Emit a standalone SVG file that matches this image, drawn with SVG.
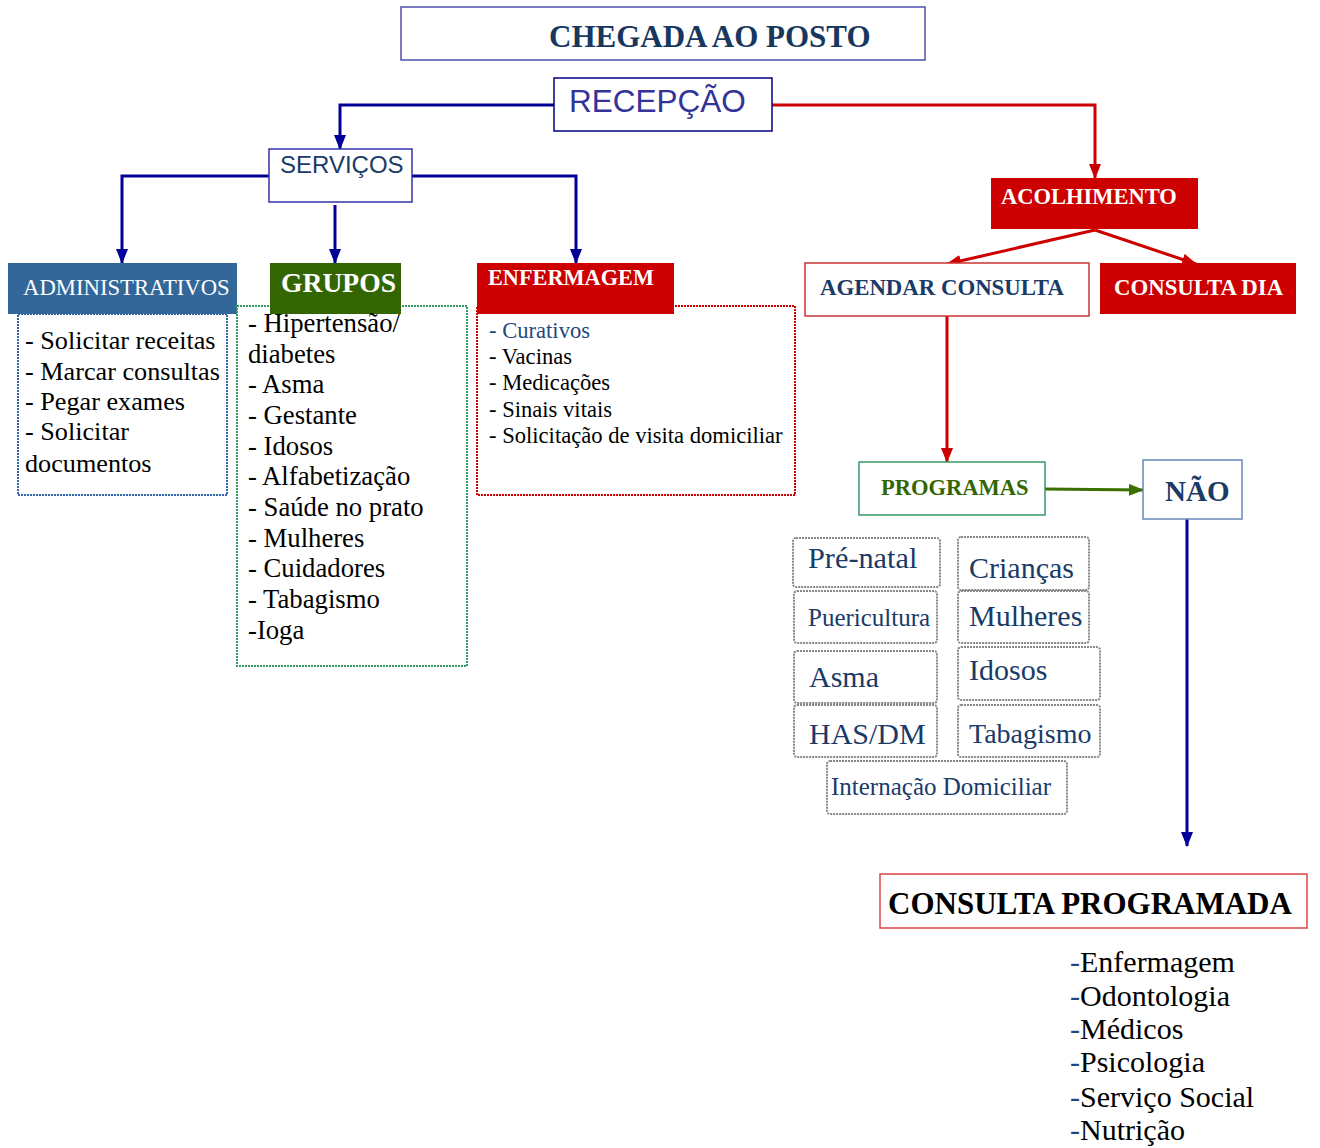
<svg xmlns="http://www.w3.org/2000/svg" width="1320" height="1148" viewBox="0 0 1320 1148">
<style>
.serif{font-family:"Liberation Serif","Times New Roman",serif}
.sans{font-family:"Liberation Sans",Arial,sans-serif}
.b{font-weight:bold}
.w{fill:#ffffff}
.navy{fill:#1a3a68}
.blk{fill:#000000}
.dot{fill:none;stroke-width:2;stroke-dasharray:2 1}
.pg{fill:none;stroke:#888888;stroke-width:2;stroke-dasharray:2 1}
.cb{fill:none;stroke:#000099;stroke-width:3}
.cr{fill:none;stroke:#cc0000;stroke-width:3}
.cg{fill:none;stroke:#3a7000;stroke-width:3}
</style>
<defs>
<marker id="ab" markerWidth="15" markerHeight="12" refX="14" refY="6" orient="auto" markerUnits="userSpaceOnUse"><path d="M0,0 L15,6 L0,12 z" fill="#000099"/></marker>
<marker id="ar" markerWidth="15" markerHeight="12" refX="14" refY="6" orient="auto" markerUnits="userSpaceOnUse"><path d="M0,0 L15,6 L0,12 z" fill="#cc0000"/></marker>
<marker id="ag" markerWidth="15" markerHeight="12" refX="14" refY="6" orient="auto" markerUnits="userSpaceOnUse"><path d="M0,0 L15,6 L0,12 z" fill="#3a7000"/></marker>
</defs>
<rect width="1320" height="1148" fill="#ffffff"/>

<g id="connectors">
<path class="cb" d="M554,105 H340 V149" marker-end="url(#ab)"/>
<path class="cb" d="M269,176 H122 V263" marker-end="url(#ab)"/>
<path class="cb" d="M335,205 V263" marker-end="url(#ab)"/>
<path class="cb" d="M412,176 H576 V263" marker-end="url(#ab)"/>
<path class="cr" d="M772,105 H1095 V178" marker-end="url(#ar)"/>
<path class="cr" d="M1095,230 L947,264" marker-end="url(#ar)"/>
<path class="cr" d="M1095,230 L1196,264" marker-end="url(#ar)"/>
<path class="cr" d="M947,316 V462" marker-end="url(#ar)"/>
<path class="cg" d="M1045,489 L1143,490" marker-end="url(#ag)"/>
<path class="cb" d="M1187,519 V846" marker-end="url(#ab)"/>
</g>

<g id="chegada">
<rect x="401" y="7" width="524" height="53" fill="#ffffff" stroke="#5050b0" stroke-width="1.5"/>
<text x="549" y="47" class="serif b" font-size="31" fill="#17375e">CHEGADA AO POSTO</text>
</g>

<g id="recepcao">
<rect x="554" y="78" width="218" height="53" fill="#ffffff" stroke="#000080" stroke-width="1.5"/>
<text x="569" y="112" class="sans" font-size="31.5" fill="#333399">RECEPÇÃO</text>
</g>

<g id="servicos">
<rect x="269" y="149" width="143" height="53" fill="#ffffff" stroke="#3333aa" stroke-width="1.5"/>
<text x="280" y="173" class="sans" font-size="24" fill="#1a3a68">SERVIÇOS</text>
</g>

<g id="administrativos">
<rect x="18" y="314" width="209" height="181" class="dot" stroke="#3366aa"/>
<rect x="8" y="263" width="229" height="51" fill="#336699"/>
<text x="23" y="295" class="serif w" font-size="22.7">ADMINISTRATIVOS</text>
<g class="serif blk" font-size="26.2">
<text x="25" y="349">- Solicitar receitas</text>
<text x="25" y="380">- Marcar consultas</text>
<text x="25" y="410">- Pegar exames</text>
<text x="25" y="440">- Solicitar</text>
<text x="25" y="472">documentos</text>
</g>
</g>

<g id="grupos">
<rect x="237" y="306" width="230" height="360" class="dot" stroke="#339966"/>
<rect x="270" y="263" width="131" height="51" fill="#336600"/>
<text x="281" y="292" class="serif b w" font-size="27.6">GRUPOS</text>
<g class="serif blk" font-size="26.7">
<text x="248" y="332">- Hipertensão/</text>
<text x="248" y="363">diabetes</text>
<text x="248" y="393">- Asma</text>
<text x="248" y="424">- Gestante</text>
<text x="248" y="455">- Idosos</text>
<text x="248" y="485">- Alfabetização</text>
<text x="248" y="516">- Saúde no prato</text>
<text x="248" y="547">- Mulheres</text>
<text x="248" y="577">- Cuidadores</text>
<text x="248" y="608">- Tabagismo</text>
<text x="248" y="639">-Ioga</text>
</g>
</g>

<g id="enfermagem">
<rect x="477" y="306" width="318" height="189" class="dot" stroke="#cc0000"/>
<rect x="477" y="263" width="197" height="51" fill="#cc0000"/>
<text x="488" y="285" class="serif b w" font-size="22.3">ENFERMAGEM</text>
<g class="serif blk" font-size="22.6">
<text x="489" y="338" fill="#1f497d">- Curativos</text>
<text x="489" y="364">- Vacinas</text>
<text x="489" y="390">- Medicações</text>
<text x="489" y="417">- Sinais vitais</text>
<text x="489" y="443">- Solicitação de visita domiciliar</text>
</g>
</g>

<g id="acolhimento">
<rect x="991" y="178" width="207" height="51" fill="#cc0000"/>
<text x="1001" y="204" class="serif b w" font-size="22.5">ACOLHIMENTO</text>
</g>

<g id="agendar">
<rect x="805" y="263" width="284" height="53" fill="#ffffff" stroke="#cc3333" stroke-width="1.5"/>
<text x="820" y="295" class="serif b navy" font-size="22.8">AGENDAR CONSULTA</text>
</g>

<g id="consulta-dia">
<rect x="1100" y="263" width="196" height="51" fill="#cc0000"/>
<text x="1114" y="295" class="serif b w" font-size="22.8">CONSULTA DIA</text>
</g>

<g id="programas">
<rect x="859" y="462" width="186" height="53" fill="#ffffff" stroke="#339966" stroke-width="1.5"/>
<text x="881" y="495" class="serif b" font-size="22.5" fill="#336600">PROGRAMAS</text>
</g>

<g id="nao">
<rect x="1143" y="460" width="99" height="59" fill="#ffffff" stroke="#6688bb" stroke-width="1.5"/>
<text x="1165" y="501" class="serif b navy" font-size="29">NÃO</text>
</g>

<g id="prog-prenatal"><rect x="793" y="538" width="147" height="49" rx="3" class="pg"/><text x="808" y="568" class="serif navy" font-size="30.3">Pré-natal</text></g>
<g id="prog-criancas"><rect x="958" y="537" width="131" height="53" rx="3" class="pg"/><text x="969" y="578" class="serif navy" font-size="30">Crianças</text></g>
<g id="prog-puericultura"><rect x="794" y="591" width="143" height="52" rx="3" class="pg"/><text x="808" y="626" class="serif navy" font-size="25">Puericultura</text></g>
<g id="prog-mulheres"><rect x="958" y="591" width="131" height="52" rx="3" class="pg"/><text x="969" y="626" class="serif navy" font-size="30">Mulheres</text></g>
<g id="prog-asma"><rect x="794" y="651" width="143" height="52" rx="3" class="pg"/><text x="809" y="687" class="serif navy" font-size="30">Asma</text></g>
<g id="prog-idosos"><rect x="958" y="647" width="142" height="53" rx="3" class="pg"/><text x="969" y="680" class="serif navy" font-size="30">Idosos</text></g>
<g id="prog-hasdm"><rect x="794" y="705" width="143" height="52" rx="3" class="pg"/><text x="809" y="744" class="serif navy" font-size="30">HAS/DM</text></g>
<g id="prog-tabagismo"><rect x="958" y="705" width="142" height="52" rx="3" class="pg"/><text x="969" y="743" class="serif navy" font-size="28">Tabagismo</text></g>
<g id="prog-internacao"><rect x="827" y="761" width="240" height="53" rx="3" class="pg"/><text x="831" y="795" class="serif navy" font-size="25">Internação Domiciliar</text></g>

<g id="consulta-programada">
<rect x="880" y="874" width="427" height="54" fill="#ffffff" stroke="#dd4444" stroke-width="1.5"/>
<text x="888" y="914" class="serif b blk" font-size="31">CONSULTA PROGRAMADA</text>
<g class="serif blk" font-size="30">
<text x="1070" y="972"><tspan fill="#1f497d">-</tspan>Enfermagem</text>
<text x="1070" y="1006"><tspan fill="#1f497d">-</tspan>Odontologia</text>
<text x="1070" y="1039"><tspan fill="#1f497d">-</tspan>Médicos</text>
<text x="1070" y="1072"><tspan fill="#1f497d">-</tspan>Psicologia</text>
<text x="1070" y="1107"><tspan fill="#1f497d">-</tspan>Serviço Social</text>
<text x="1070" y="1140"><tspan fill="#1f497d">-</tspan>Nutrição</text>
</g>
</g>
</svg>
